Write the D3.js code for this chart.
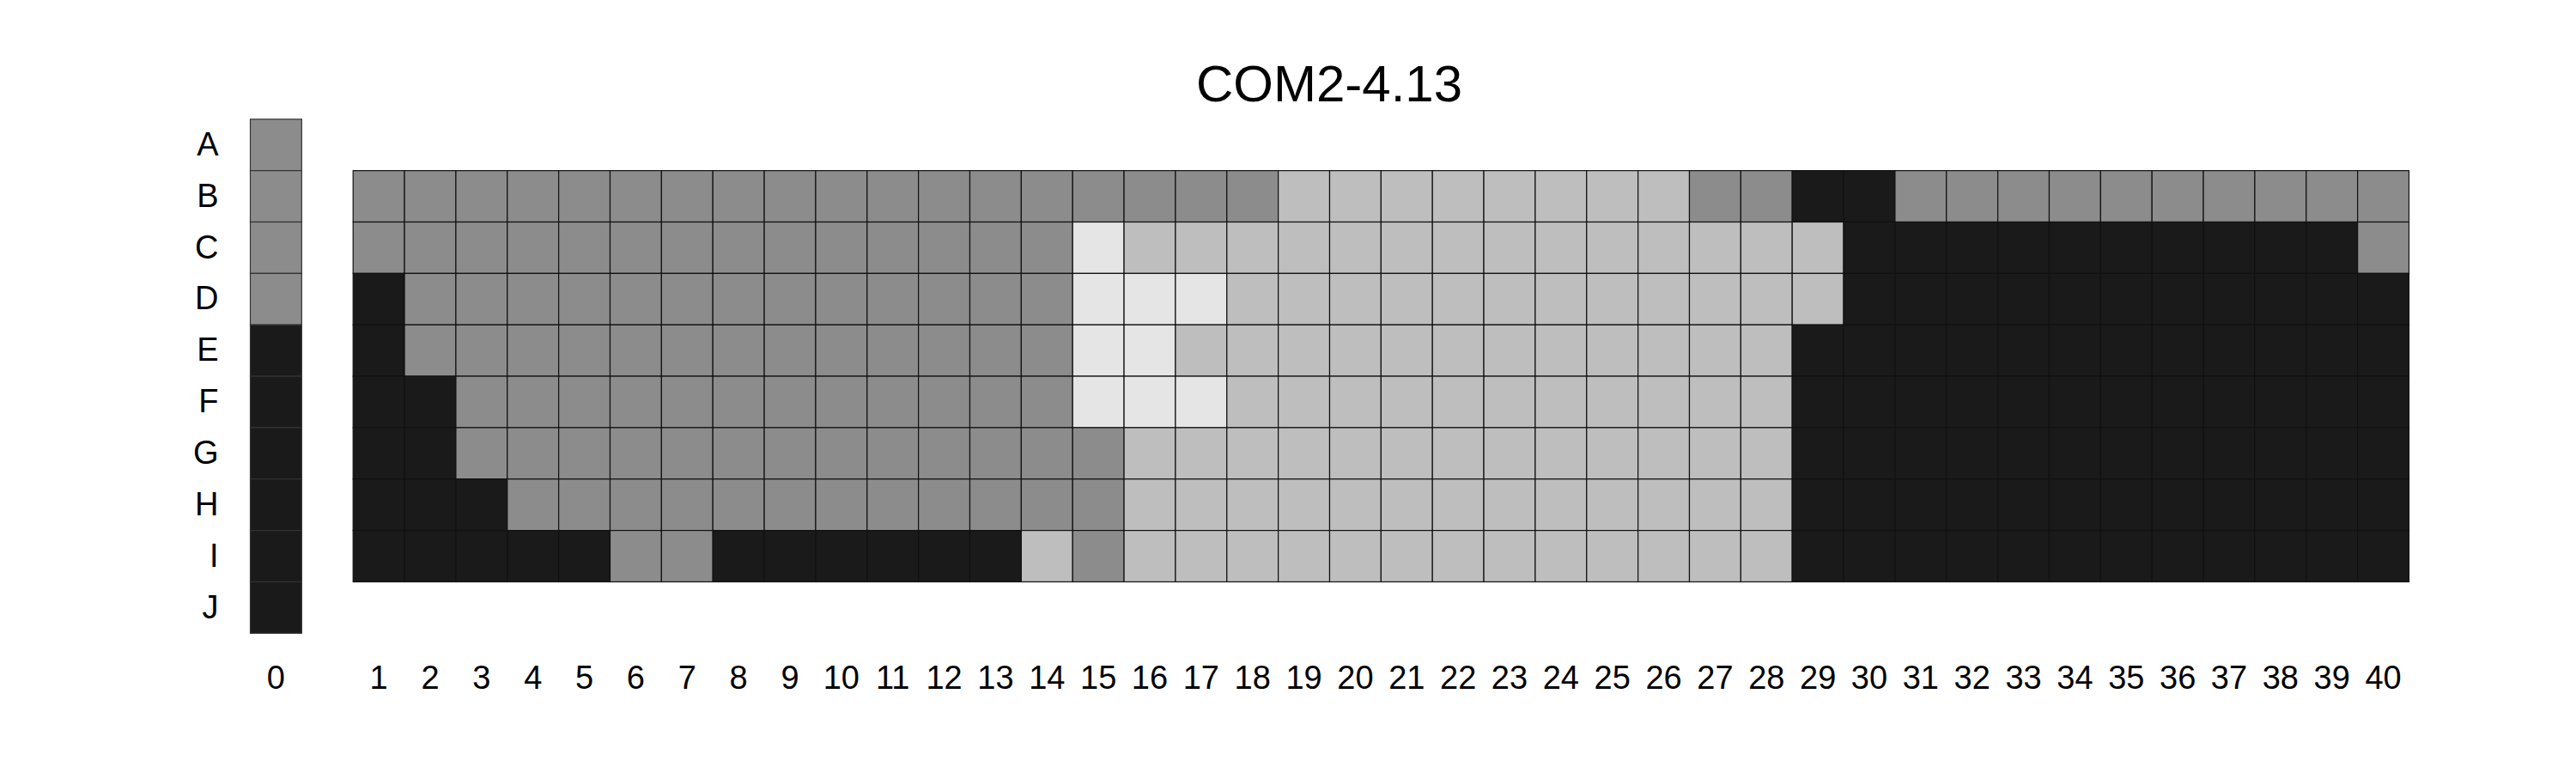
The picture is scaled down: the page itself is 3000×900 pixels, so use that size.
<!DOCTYPE html>
<html>
<head>
<meta charset="utf-8">
<script src="https://cdn.jsdelivr.net/npm/d3@7"></script>
<style>
  html, body { margin: 0; padding: 0; background: #ffffff; }
  svg { display: block; }
  text { font-family: "Liberation Sans", Arial, Helvetica, sans-serif; fill: #000; }
</style>
</head>
<body>
<svg id="chart" width="3000" height="900"></svg>
<script>
// ---- data ----
const title = "COM2-4.13";
const rowLabels = ["A","B","C","D","E","F","G","H","I","J"];
const colLabels = ["0","1","2","3","4","5","6","7","8","9","10","11","12","13","14","15","16","17","18","19","20",
                   "21","22","23","24","25","26","27","28","29","30","31","32","33","34","35","36","37","38","39","40"];
// levels: 1 = dark, 2 = medium, 3 = light, 4 = very light
const levelColors = ["#1a1a1a", "#8c8c8c", "#bebebe", "#e5e5e5"];
const levels = [1, 2, 3, 4];

// column 0 (rows A..J)
const col0 = [2,2,2,2,1,1,1,1,1,1];
// columns 1..40 for rows B..I
const rowB = [2,2,2,2,2,2,2,2,2,2,2,2,2,2,2,2,2,2,3,3,3,3,3,3,3,3,2,2,1,1,2,2,2,2,2,2,2,2,2,2];
const rowC = [2,2,2,2,2,2,2,2,2,2,2,2,2,2,4,3,3,3,3,3,3,3,3,3,3,3,3,3,3,1,1,1,1,1,1,1,1,1,1,2];
const rowD = [1,2,2,2,2,2,2,2,2,2,2,2,2,2,4,4,4,3,3,3,3,3,3,3,3,3,3,3,3,1,1,1,1,1,1,1,1,1,1,1];
const rowE = [1,2,2,2,2,2,2,2,2,2,2,2,2,2,4,4,3,3,3,3,3,3,3,3,3,3,3,3,1,1,1,1,1,1,1,1,1,1,1,1];
const rowF = [1,1,2,2,2,2,2,2,2,2,2,2,2,2,4,4,4,3,3,3,3,3,3,3,3,3,3,3,1,1,1,1,1,1,1,1,1,1,1,1];
const rowG = [1,1,2,2,2,2,2,2,2,2,2,2,2,2,2,3,3,3,3,3,3,3,3,3,3,3,3,3,1,1,1,1,1,1,1,1,1,1,1,1];
const rowH = [1,1,1,2,2,2,2,2,2,2,2,2,2,2,2,3,3,3,3,3,3,3,3,3,3,3,3,3,1,1,1,1,1,1,1,1,1,1,1,1];
const rowI = [1,1,1,1,1,2,2,1,1,1,1,1,1,3,2,3,3,3,3,3,3,3,3,3,3,3,3,3,1,1,1,1,1,1,1,1,1,1,1,1];
const mainRows = ["B","C","D","E","F","G","H","I"];
const mainData = [rowB, rowC, rowD, rowE, rowF, rowG, rowH, rowI];

// ---- build cells ----
const cells = [];
col0.forEach((v, i) => cells.push({ row: rowLabels[i], col: "0", v }));
mainData.forEach((arr, r) => arr.forEach((v, c) => cells.push({ row: mainRows[r], col: String(c + 1), v })));

// ---- scales ----
const svg = d3.select("#chart");
svg.append("rect").attr("width", 3000).attr("height", 900).attr("fill", "#fff");

const xDomain = ["0", "_gap"].concat(colLabels.slice(1));
const x = d3.scaleBand().domain(xDomain).range([291.5, 2805.5]).padding(0);
const y = d3.scaleBand().domain(rowLabels).range([138.8, 737.3]).padding(0);
const color = d3.scaleOrdinal().domain(levels).range(levelColors);

// ---- cells ----
svg.append("g")
  .selectAll("rect")
  .data(cells)
  .join("rect")
  .attr("x", d => x(d.col))
  .attr("y", d => y(d.row))
  .attr("width", x.bandwidth())
  .attr("height", y.bandwidth())
  .attr("fill", d => color(d.v))
  .attr("stroke", d => d.col === "0" ? "#333" : "#111")
  .attr("stroke-width", 1.2);

// ---- axes ----
const xAxis = d3.axisBottom(x).tickValues(colLabels).tickSize(0).tickPadding(38);
const gx = svg.append("g").attr("transform", "translate(0,737.3)").call(xAxis);
gx.select(".domain").remove();
gx.selectAll("text")
  .attr("font-size", 38)
  .attr("font-family", "'Liberation Sans', Arial, sans-serif")
  .attr("fill", "#000");

const yAxis = d3.axisLeft(y).tickSize(0).tickPadding(37);
const gy = svg.append("g").attr("transform", "translate(291.5,0)").call(yAxis);
gy.select(".domain").remove();
gy.selectAll("text")
  .attr("font-size", 38)
  .attr("font-family", "'Liberation Sans', Arial, sans-serif")
  .attr("fill", "#000");

// ---- title ----
svg.append("text")
  .attr("x", 1548)
  .attr("y", 118)
  .attr("text-anchor", "middle")
  .attr("font-size", 60)
  .text(title);
</script>
</body>
</html>
